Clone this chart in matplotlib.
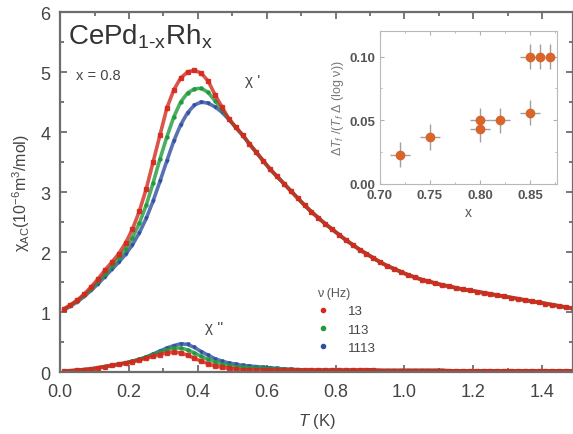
import numpy as np
import matplotlib.pyplot as plt
from matplotlib.ticker import MultipleLocator

plt.rcParams['font.family'] = ['Liberation Sans', 'DejaVu Sans']
plt.rcParams['mathtext.fontset'] = 'custom'
plt.rcParams['mathtext.rm'] = 'Liberation Sans'
plt.rcParams['mathtext.it'] = 'Liberation Sans:italic'

# ---- main panel data: temperature grid (K) ----
temp_k = np.round(np.arange(0.01, 1.50, 0.02), 2)

# chi' head (T = 0.01 ... 0.49), per frequency
chi1_13 = [1.05, 1.12, 1.20, 1.30, 1.42, 1.55, 1.70, 1.83, 1.97, 2.15, 2.38, 2.68, 3.05,
           3.50, 3.95, 4.40, 4.70, 4.90, 5.00, 5.03, 4.98, 4.85, 4.62, 4.42, 4.22]
chi1_113 = [1.04, 1.11, 1.19, 1.28, 1.39, 1.51, 1.64, 1.77, 1.90, 2.05, 2.24, 2.48, 2.78,
            3.15, 3.55, 3.92, 4.25, 4.50, 4.65, 4.72, 4.73, 4.66, 4.52, 4.38, 4.22]
chi1_1113 = [1.03, 1.10, 1.17, 1.26, 1.36, 1.47, 1.59, 1.71, 1.83, 1.96, 2.12, 2.32, 2.56,
             2.85, 3.18, 3.52, 3.85, 4.12, 4.32, 4.45, 4.50, 4.48, 4.42, 4.33, 4.21]
# chi' tail (T = 0.51 ... 1.49), common to all frequencies
chi1_tail = [4.08, 3.95, 3.80, 3.66, 3.52, 3.38, 3.26, 3.14, 3.02, 2.90, 2.78, 2.67, 2.57,
             2.47, 2.38, 2.29, 2.20, 2.12, 2.04, 1.97, 1.90, 1.83, 1.77, 1.72, 1.67, 1.62,
             1.58, 1.54, 1.51, 1.48, 1.45, 1.43, 1.40, 1.38, 1.36, 1.34, 1.32, 1.30, 1.28,
             1.26, 1.24, 1.22, 1.20, 1.18, 1.16, 1.14, 1.12, 1.10, 1.08, 1.06]

# chi'' head (T = 0.01 ... 0.69), per frequency
chi2_13 = [0.01, 0.02, 0.03, 0.04, 0.05, 0.07, 0.09, 0.11, 0.13, 0.15, 0.17, 0.20, 0.23,
           0.26, 0.29, 0.32, 0.33, 0.32, 0.28, 0.23, 0.18, 0.14, 0.10, 0.08, 0.06, 0.05,
           0.04, 0.035, 0.03, 0.03, 0.03, 0.03, 0.03, 0.03, 0.03]
chi2_113 = [0.01, 0.02, 0.03, 0.04, 0.05, 0.07, 0.09, 0.11, 0.13, 0.15, 0.18, 0.21, 0.25,
            0.29, 0.33, 0.37, 0.40, 0.40, 0.37, 0.32, 0.26, 0.21, 0.17, 0.13, 0.11, 0.09,
            0.08, 0.07, 0.065, 0.06, 0.055, 0.05, 0.045, 0.04, 0.035]
chi2_1113 = [0.01, 0.02, 0.03, 0.04, 0.05, 0.07, 0.09, 0.11, 0.13, 0.15, 0.18, 0.21, 0.25,
             0.30, 0.35, 0.40, 0.44, 0.47, 0.46, 0.41, 0.34, 0.28, 0.22, 0.18, 0.15, 0.13,
             0.11, 0.10, 0.09, 0.08, 0.07, 0.06, 0.05, 0.045, 0.04]
# chi'' tail (T = 0.71 ... 1.49)
chi2_tail = [0.03, 0.03, 0.03, 0.03, 0.03, 0.03, 0.03, 0.03, 0.03, 0.03, 0.03, 0.025, 0.025,
             0.025, 0.025, 0.025, 0.025, 0.025, 0.025, 0.025, 0.025, 0.02, 0.02, 0.02, 0.02,
             0.02, 0.02, 0.02, 0.02, 0.02, 0.02, 0.02, 0.02, 0.02, 0.02, 0.02, 0.02, 0.02,
             0.02, 0.02]

freq_labels = ['13', '113', '1113']

# ---- inset data ----
inset_x = [0.72, 0.75, 0.80, 0.80, 0.82, 0.85, 0.85, 0.86, 0.87]
inset_y = [0.023, 0.037, 0.050, 0.043, 0.050, 0.056, 0.100, 0.100, 0.100]
inset_xerr = [0.01, 0.01, 0.01, 0.01, 0.01, 0.01, 0.01, 0.005, 0.005]
inset_yerr = [0.010, 0.010, 0.010, 0.010, 0.010, 0.010, 0.010, 0.010, 0.010]

red, green, blue = '#d42a1e', '#1f9a3c', '#2f4f9f'
grey = '#6d6d6d'

fig = plt.figure(figsize=(5.73, 4.35), dpi=100)
ax = fig.add_axes([0.105, 0.1425, 0.895, 0.8275])

series = [
    (chi1_1113 + chi1_tail, chi2_1113 + chi2_tail, blue, 'v', freq_labels[2]),
    (chi1_113 + chi1_tail, chi2_113 + chi2_tail, green, 'o', freq_labels[1]),
    (chi1_13 + chi1_tail, chi2_13 + chi2_tail, red, 's', freq_labels[0]),
]
handles = {}
for c1, c2, col, mk, lab in series:
    for c in (c1, c2):
        ax.plot(temp_k, c, '-', color=col, lw=2.6, alpha=0.8, solid_capstyle='round')
        ax.plot(temp_k, c, ls='none', marker=mk, ms=2.2, color=col, mec=col, alpha=0.9)
    handles[lab] = ax.plot([], [], ls='none', marker='o', ms=2.5, color=col)[0]

ax.set_xlim(0, 1.49)
ax.set_ylim(0, 6)
ax.xaxis.set_major_locator(MultipleLocator(0.2))
ax.xaxis.set_minor_locator(MultipleLocator(0.1))
ax.yaxis.set_major_locator(MultipleLocator(1))
ax.yaxis.set_minor_locator(MultipleLocator(0.5))
ax.xaxis.set_major_formatter(lambda v, p: f'{v:.1f}')
ax.tick_params(which='both', direction='in', top=True, right=True, color=grey,
               labelcolor='#444444', labelsize=13, width=1.3)
ax.tick_params(axis='x', pad=8)
ax.tick_params(axis='y', pad=7)
ax.tick_params(which='major', length=5)
ax.tick_params(which='minor', length=3)
for s in ax.spines.values():
    s.set_color(grey)
    s.set_linewidth(1.6)

ax.set_xlabel('$T$ (K)', fontsize=12, color='#444444', labelpad=8)
ax.set_ylabel('χ$_{\\mathrm{AC}}$(10$^{-6}$m$^3$/mol)', fontsize=11.5, color='#444444', labelpad=6)

ax.text(0.015, 0.935, 'CePd$_{\\text{1-x}}$Rh$_{\\text{x}}$', transform=ax.transAxes,
        fontsize=20, color='#333333', va='center')
ax.text(0.03, 0.825, 'x = 0.8', transform=ax.transAxes, fontsize=10.5, color='#444444',
        va='center')
ax.text(0.536, 4.8, "χ '", fontsize=11, color='#444444')
ax.text(0.42, 0.68, "χ ''", fontsize=11, color='#444444')

leg = ax.legend([handles[l] for l in freq_labels], freq_labels, title='ν (Hz)',
                loc='upper left', bbox_to_anchor=(0.49, 0.25), frameon=False,
                fontsize=9.5, title_fontsize=9, markerscale=1.2, handlelength=1.0,
                handletextpad=1.4, labelspacing=0.45, borderaxespad=0)
leg._legend_box.align = 'left'
for t in leg.get_texts():
    t.set_color('#444444')
leg.get_title().set_color('#555555')

# ---- inset ----
ins = fig.add_axes([0.663, 0.575, 0.309, 0.351])
ins.errorbar(inset_x, inset_y, xerr=inset_xerr, yerr=inset_yerr, fmt='o', color='#d9642c',
             ms=6, ecolor='#a0a0a0', elinewidth=1.0, capsize=0, zorder=3)
ins.set_xlim(0.70, 0.877)
ins.set_ylim(0, 0.12)
ins.xaxis.set_major_locator(MultipleLocator(0.05))
ins.xaxis.set_minor_locator(MultipleLocator(0.025))
ins.yaxis.set_major_locator(MultipleLocator(0.05))
ins.yaxis.set_minor_locator(MultipleLocator(0.025))
ins.xaxis.set_major_formatter(lambda v, p: f'{v:.2f}')
ins.yaxis.set_major_formatter(lambda v, p: f'{v:.2f}')
ins.tick_params(which='both', direction='in', top=True, right=True, color='#b0b0b0',
                labelcolor='#555555', labelsize=9.5)
ins.tick_params(which='major', length=3)
ins.tick_params(which='minor', length=1.5)
for lab in ins.get_xticklabels() + ins.get_yticklabels():
    lab.set_fontweight('bold')
for s in ins.spines.values():
    s.set_color('#b8b8b8')
ins.set_xlabel('x', fontsize=10, color='#555555', labelpad=3)
ins.set_ylabel('Δ$T_f$ /($T_f$ Δ (log ν))', fontsize=9, color='#777777', labelpad=2)

fig.savefig('out.png', dpi=100)
